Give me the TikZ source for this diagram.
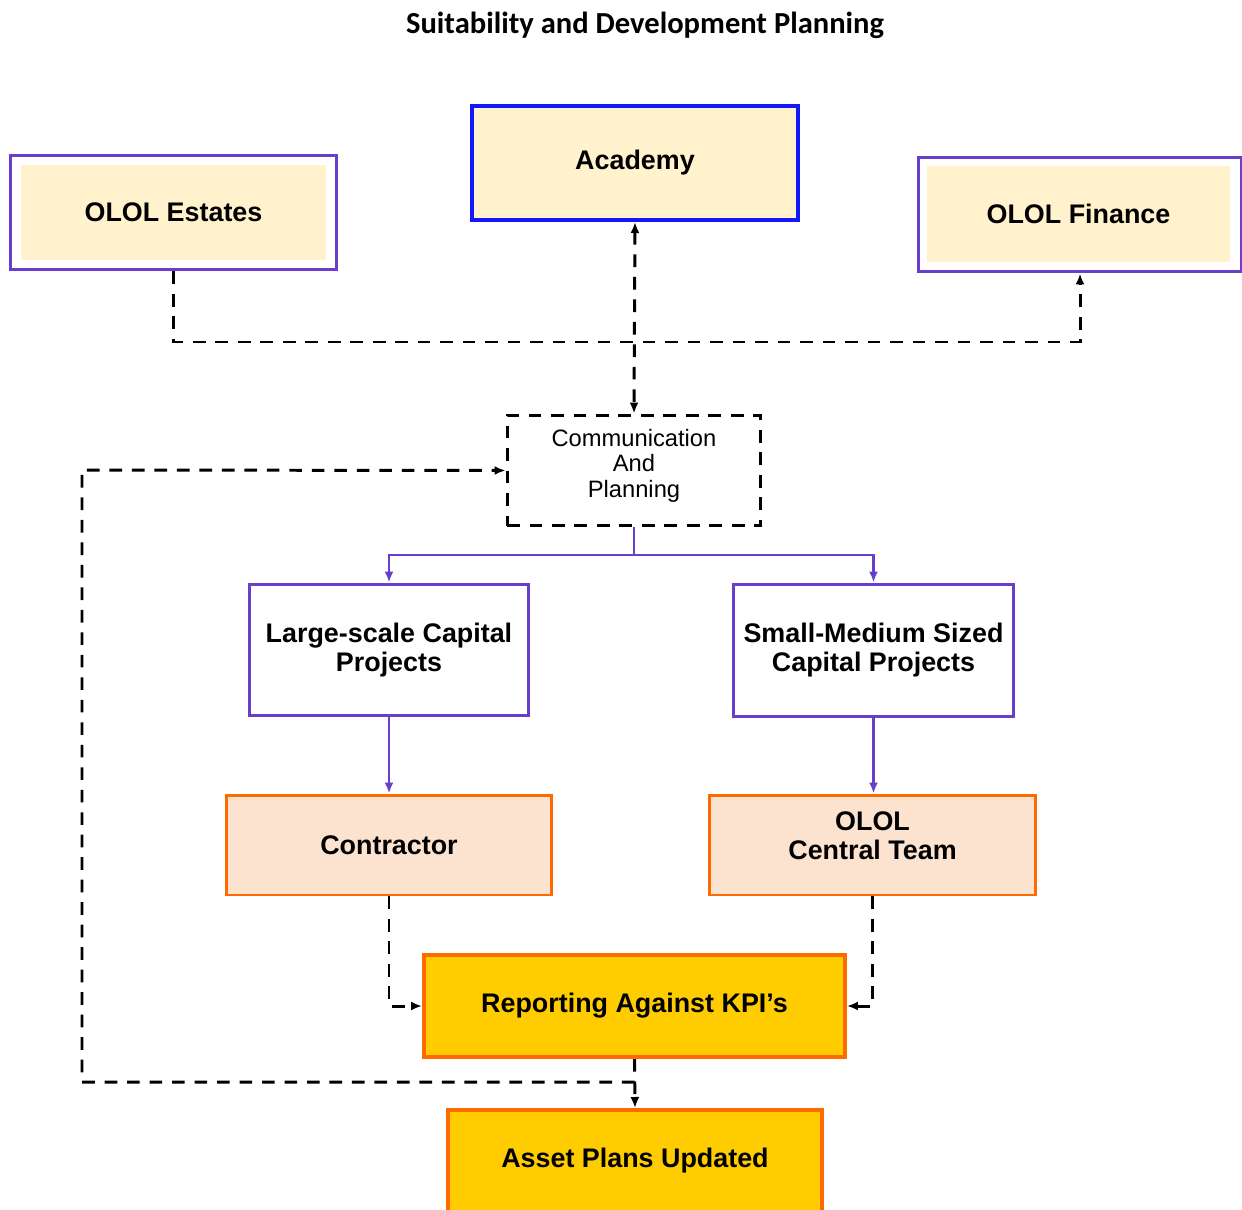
\documentclass[tikz,border=0pt]{standalone}
\usepackage{fontspec}
\setmainfont{Liberation Sans}
\newfontfamily\calibri{Carlito}
\usepackage{xcolor}
\usepackage{tikz}
\usetikzlibrary{arrows.meta}

\definecolor{olpurple}{RGB}{106,62,204}
\definecolor{olblue}{RGB}{18,24,250}
\definecolor{olcream}{RGB}{255,242,204}
\definecolor{olpeach}{RGB}{252,227,208}
\definecolor{olorange}{RGB}{255,106,0}
\definecolor{olgold}{RGB}{255,204,0}

\begin{document}
\begin{tikzpicture}[x=0.02cm, y=-0.02cm,
        every node/.style={align=center, inner sep=0pt,
        font=\fontsize{15.3}{16.5}\selectfont\bfseries},
        outerbox/.style={draw=olpurple, line width=1.7pt, fill=white},
        innerbox/.style={fill=olcream},
        lilacbox/.style={draw=olpurple, line width=1.7pt, fill=white},
        peachbox/.style={draw=olorange, line width=1.7pt, fill=olpeach},
        goldbox/.style={draw=olorange, line width=2.3pt, fill=olgold},
        dashline/.style={black, line width=1.7pt, dash pattern=on 7.2pt off 5.6pt},
        purpline/.style={olpurple, line width=1.5pt},
        endtip/.style={-{Latex[length=2.2mm,width=1.8mm]}},
        bothtip/.style={{Latex[length=2.2mm,width=1.8mm]}-{Latex[length=2.2mm,width=1.8mm]}}]
        \useasboundingbox (0,0) rectangle (1242,1210);

        \node[font=\calibri\fontsize{17.4}{19}\selectfont\bfseries] (Title) at (645,25) {Suitability and Development Planning};

        \node[outerbox, minimum width=6.54cm, minimum height=2.3cm] (E) at (173.5,212.5) {};
        \node[innerbox, minimum width=6.1cm, minimum height=1.9cm] (Ei) at (E) {OLOL Estates};
        \node[draw=olblue, line width=2.3pt, fill=olcream, minimum width=6.52cm,
            minimum height=2.28cm] (A) at (635,163) {Academy};
        \node[outerbox, minimum width=6.46cm, minimum height=2.3cm] (F) at (1080,214.5) {};
        \node[innerbox, minimum width=6.06cm, minimum height=1.92cm] (Fi) at (1078.5,214) {OLOL Finance};
        \node[draw, dashline, minimum width=5.08cm, minimum height=2.22cm, text depth=0.3cm,
            font=\fontsize{13.5}{14.5}\selectfont] (C) at (634,470.5) {Communication\\And\\Planning};
        \node[lilacbox, minimum width=5.6cm, minimum height=2.64cm] (L) at (389,650) {Large-scale Capital\\Projects};
        \node[lilacbox, minimum width=5.62cm, minimum height=2.66cm] (S) at (873.5,650.5) {Small-Medium Sized\\Capital Projects};
        \node[peachbox, minimum width=6.52cm, minimum height=2cm] (K) at (389,845) {Contractor};
        \node[peachbox, minimum width=6.54cm, minimum height=2cm, text depth=0.36cm] (T) at (872.5,845) {OLOL\\Central Team};
        \node[goldbox, minimum width=8.42cm, minimum height=2.04cm] (R) at (634.5,1006) {Reporting Against KPI’s};
        \node[goldbox, minimum width=7.48cm, minimum height=2.04cm] (P) at (635,1161) {Asset Plans Updated};

        \coordinate (J) at (634,342);
        \coordinate (M) at (634,555);
        \coordinate (B) at (634.5,1082);
        \coordinate (W) at (82,470);

        \draw[dashline, endtip] (E.south) |- (J) -| (F.south);
        \draw[dashline, bothtip] (A.south) -- (C.north);
        \draw[purpline] (C.south) -- (M);
        \draw[purpline, endtip] (M) -| (L.north);
        \draw[purpline, endtip] (M) -| (S.north);
        \draw[purpline, endtip] (L.south) -- (K.north);
        \draw[purpline, endtip] (S.south) -- (S.south |- T.north);
        \draw[dashline, endtip] (K.south) |- (R.west);
        \draw[dashline, endtip] (T.south) |- (R.east);
        \draw[dashline, endtip] (R.south) -- (P.north);
        \draw[dashline, endtip] (B) -| (W) -- (C.west);
    \end{tikzpicture}
\end{document}
